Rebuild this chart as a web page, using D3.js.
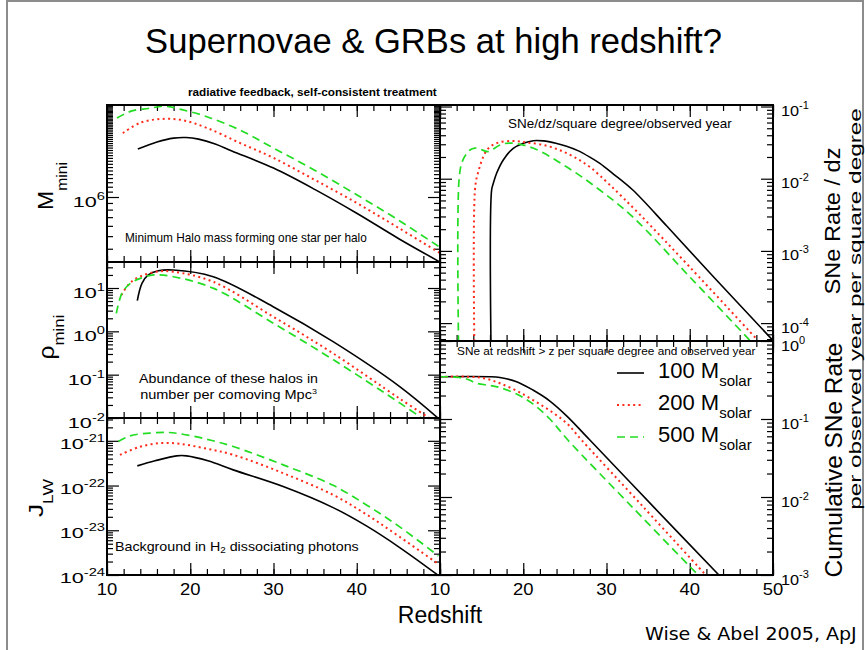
<!DOCTYPE html>
<html lang="en">
<head>
<meta charset="UTF-8" />
<title>Supernovae &amp; GRBs at high redshift?</title>
<script src="https://d3js.org/d3.v7.min.js"></script>
<style>
  body { margin: 0; background: #fff; }
  svg { display: block; font-family: "Liberation Sans", Arial, Helvetica, sans-serif; }
</style>
</head>
<body>
<div id="chart"></div>
<script>
// ------------------------------------------------------------
// Data: [redshift z, value]
// ------------------------------------------------------------

// minimum halo mass M_mini (solar masses)
const mMini100 = [[13.7, 2.34e6], [16, 2.65e6], [18, 2.84e6], [19.5, 2.87e6], [21, 2.79e6], [23, 2.56e6], [25, 2.26e6], [30, 1.67e6], [35, 1.14e6], [40, 7.5e5], [45, 4.8e5], [50, 3.16e5]];
const mMini200 = [[11.9, 3.1e6], [14, 3.73e6], [16.4, 3.98e6], [19, 3.91e6], [22, 3.4e6], [26, 2.6e6], [30, 2.0e6], [35, 1.35e6], [40, 9.0e5], [45, 5.8e5], [50, 3.7e5]];
const mMini500 = [[11.2, 4.05e6], [13, 4.6e6], [15, 4.8e6], [17, 5.0e6], [19, 4.7e6], [22, 4.15e6], [26, 3.27e6], [30, 2.38e6], [35, 1.6e6], [40, 1.04e6], [45, 6.65e5], [50, 4.1e5]];

// abundance rho_mini (per comoving Mpc^3)
const rho100 = [[13.64, 5.1], [14.2, 12.8], [14.96, 20], [16.16, 25], [17.96, 26], [22.76, 18.2], [29.96, 3.7], [37.16, 0.577], [45.16, 0.053], [49.8, 0.0098]];
const rho200 = [[11.72, 6.9], [12.72, 12.8], [13.92, 18.2], [15.92, 23.8], [17.92, 23.8], [22.72, 14], [29.96, 2.18], [37.16, 0.31], [45.16, 0.028], [48.76, 0.0098]];
const rho500 = [[11.12, 2.6], [11.8, 7.6], [12.8, 12.8], [14, 16.7], [15.6, 20], [18, 18.2], [22.8, 9.8], [30, 1.53], [37.2, 0.22], [45.2, 0.022], [47.8, 0.01]];

// Lyman-Werner background J_LW
const jLW100 = [[13.64, 2.75e-22], [15.76, 3.57e-22], [18.36, 4.61e-22], [19.56, 4.61e-22], [22.12, 3.57e-22], [25.16, 2.24e-22], [31.16, 9.5e-23], [37.16, 3.21e-23], [41.16, 1.25e-23], [45.16, 4.11e-24], [49.8, 9.8e-25]];
const jLW200 = [[11.56, 4.86e-22], [13.96, 7.34e-22], [16.36, 8.88e-22], [18.76, 8.57e-22], [21.76, 6.79e-22], [25.16, 4.86e-22], [31.16, 1.89e-22], [37.16, 6.18e-23], [41.16, 2.26e-23], [45.16, 7.1e-24], [49.8, 1.76e-24]];
const jLW500 = [[11.36, 9.64e-22], [12.76, 1.29e-21], [15.16, 1.49e-21], [17.16, 1.54e-21], [18.76, 1.44e-21], [21.76, 1.11e-21], [25.16, 7.45e-22], [31.16, 2.9e-22], [37.16, 1.01e-22], [41.16, 3.69e-23], [45.16, 1.19e-23], [49.8, 2.67e-24]];

// SNe rate per dz per square degree per observed year
const snRate100 = [[16.2, 1e-5], [16.2, 6.97e-3], [16.4, 8.6e-3], [16.8, 0.0119], [17.6, 0.0182], [18.8, 0.0264], [20, 0.0309], [21.2, 0.0336], [22.4, 0.0334], [23.92, 0.031], [25.2, 0.0282], [26.56, 0.0245], [28, 0.0199], [29.2, 0.0163], [30.76, 0.0118], [33.16, 6.97e-3], [37.24, 2.21e-3], [42.76, 4.49e-4], [49.96, 5.8e-5]];
const snRate200 = [[14.2, 1e-5], [14.2, 6.97e-3], [14.56, 0.012], [15.64, 0.025], [16.84, 0.0312], [18.76, 0.0333], [20.44, 0.0318], [22.6, 0.029], [24.4, 0.0248], [26.2, 0.0197], [28, 0.0145], [30.4, 8.2e-3], [34, 3.19e-3], [40, 5.98e-4], [48.16, 5.8e-5]];
const snRate500 = [[12.32, 1e-5], [12.32, 0.0107], [12.76, 0.0182], [13.6, 0.025], [14.2, 0.0266], [14.8, 0.0258], [15.76, 0.0237], [17.2, 0.0293], [18.4, 0.0312], [21.16, 0.0266], [25.24, 0.0145], [29.2, 6.97e-3], [33.16, 2.95e-3], [40, 4.36e-4], [47.2, 5.8e-5]];

// cumulative SNe rate (redshift > z)
const cum100 = [[10, 0.348], [16, 0.348], [17.2, 0.34], [19.2, 0.301], [21.16, 0.235], [23.2, 0.17], [25.24, 0.109], [28, 0.0538], [35.74, 7.3e-3], [43.5, 1e-3]];
const cum200 = [[10, 0.348], [13.6, 0.348], [15.4, 0.331], [17.2, 0.287], [19.24, 0.229], [21.16, 0.175], [23.2, 0.128], [25.24, 0.088], [27, 0.0538], [34.5, 7.3e-3], [41.92, 1e-3]];
const cum500 = [[10, 0.348], [11.8, 0.345], [13.2, 0.326], [14.4, 0.287], [16, 0.269], [17.2, 0.253], [19.2, 0.209], [21.16, 0.156], [23.2, 0.1], [25.36, 0.0538], [33.16, 7.3e-3], [41, 1e-3]];

const masses = ["100", "200", "500"];
const xMajor = [10, 20, 30, 40, 50];
const xMinor = d3.range(10, 50.01, 2);
const mMiniLabels = [1e6];
const rhoLabels = [10, 1, 0.1, 0.01];
const jLWLabels = [1e-21, 1e-22, 1e-23, 1e-24];
const snRateLabels = [0.1, 0.01, 1e-3, 1e-4];
const cumLabels = [1, 0.1, 0.01, 1e-3];

// ------------------------------------------------------------
const W = 865, H = 650;
const styles = [
  { color: "#000", dash: null, width: 1.6 },
  { color: "#ff2a1a", dash: "2,3.4", width: 2 },
  { color: "#22dd22", dash: "8,5", width: 1.7 },
];

const svg = d3.select("#chart").append("svg").attr("width", W).attr("height", H);
svg.append("rect").attr("width", W).attr("height", H).attr("fill", "#fff");
// slide frame
svg.append("rect")
  .attr("x", 7).attr("y", 1).attr("width", 856).attr("height", 700)
  .attr("fill", "none").attr("stroke", "#8c8c8c").attr("stroke-width", 2);

// text helper: pieces are [string, baseline shift, size]
function addText(x, y, pieces, o) {
  const g = svg.append("g").attr("transform", `translate(${x},${y}) rotate(${o.rotate || 0})`);
  const inner = g.append("g");
  const t = inner.append("text")
    .attr("text-anchor", o.anchor || "start")
    .attr("font-size", o.size)
    .attr("font-weight", o.weight || "normal")
    .attr("fill", "#000");
  if (o.family) t.attr("font-family", o.family);
  let cur = 0;
  pieces.forEach((p) => {
    const [str, shift, size] = typeof p === "string" ? [p, 0, o.size] : p;
    t.append("tspan").attr("dy", shift - cur).attr("font-size", size || o.size).text(str);
    cur = shift;
  });
  if (o.width) {
    const w = t.node().getComputedTextLength();
    inner.attr("transform", `scale(${o.width / w},1)`);
  } else if (o.stretch) {
    inner.attr("transform", `scale(${o.stretch},1)`);
  }
  return g;
}

function powText(x, y, v, o) {
  const e = Math.round(Math.log10(v));
  return addText(x, y, [["10", 0, o.size], [String(e), -o.sup, o.supSize]], o);
}

// ------------------------------------------------------------
// Panels
// ------------------------------------------------------------
const panels = [
  { key: "m", x0: 107, x1: 440, y0: 105, y1: 262, dom: [Math.pow(10, 5.5), Math.pow(10, 6.708)], data: [mMini100, mMini200, mMini500], labels: mMiniLabels, side: "left", lab: 10 },
  { key: "rho", x0: 107, x1: 440, y0: 262, y1: 418, dom: [0.01, Math.pow(10, 1.6)], data: [rho100, rho200, rho500], labels: rhoLabels, side: "left", lab: 10 },
  { key: "j", x0: 107, x1: 440, y0: 418, y1: 575, dom: [1e-24, Math.pow(10, -20.49)], data: [jLW100, jLW200, jLW500], labels: jLWLabels, side: "left", lab: 8, xLabels: [10, 20, 30, 40] },
  { key: "sn", x0: 440, x1: 773, y0: 105, y1: 341, dom: [Math.pow(10, -4.248), Math.pow(10, -0.979)], data: [snRate100, snRate200, snRate500], labels: snRateLabels, side: "right", lab: 9.5 },
  { key: "cum", x0: 440, x1: 773, y0: 341, y1: 575, dom: [1e-3, 1], data: [cum100, cum200, cum500], labels: cumLabels, side: "right", lab: 9.5, xLabels: xMajor },
];

panels.forEach((p) => {
  const x = d3.scaleLinear().domain([10, 50]).range([p.x0, p.x1]);
  const y = d3.scaleLog().domain(p.dom).range([p.y1, p.y0]);

  const clipId = "clip-" + p.key;
  svg.append("clipPath").attr("id", clipId)
    .append("rect").attr("x", p.x0).attr("y", p.y0)
    .attr("width", p.x1 - p.x0).attr("height", p.y1 - p.y0);

  // log minor / major ticks
  const all = y.ticks(50).filter((v) => v >= p.dom[0] * 0.999 && v <= p.dom[1] * 1.001);
  const major = all.filter((v) => Math.abs(Math.log10(v) - Math.round(Math.log10(v))) < 1e-6);
  const minor = all.filter((v) => !major.includes(v));

  const tickAxis = (gen, tx, ty, vals, len) => {
    const g = svg.append("g").attr("transform", `translate(${tx},${ty})`)
      .call(gen.tickValues(vals).tickSize(-len).tickFormat(""));
    g.select(".domain").remove();
    g.selectAll("line").attr("stroke", "#000").attr("stroke-width", 1.2);
  };
  tickAxis(d3.axisLeft(y), p.x0, 0, minor, 6);
  tickAxis(d3.axisLeft(y), p.x0, 0, major, 12);
  tickAxis(d3.axisRight(y), p.x1, 0, minor, 6);
  tickAxis(d3.axisRight(y), p.x1, 0, major, 12);
  tickAxis(d3.axisBottom(x), 0, p.y1, xMinor, 6);
  tickAxis(d3.axisBottom(x), 0, p.y1, xMajor, 12);
  tickAxis(d3.axisTop(x), 0, p.y0, xMinor, 6);
  tickAxis(d3.axisTop(x), 0, p.y0, xMajor, 12);

  // curves
  const line = d3.line()
    .x((d) => x(d[0]))
    .y((d) => y(d[1]))
    .curve(d3.curveCatmullRom.alpha(0.5));
  p.data.forEach((s, i) => {
    svg.append("path")
      .datum(s)
      .attr("clip-path", `url(#${clipId})`)
      .attr("d", line)
      .attr("fill", "none")
      .attr("stroke", styles[i].color)
      .attr("stroke-width", styles[i].width)
      .attr("stroke-dasharray", styles[i].dash);
  });

  // frame
  svg.append("rect")
    .attr("x", p.x0).attr("y", p.y0)
    .attr("width", p.x1 - p.x0).attr("height", p.y1 - p.y0)
    .attr("fill", "none").attr("stroke", "#000").attr("stroke-width", 2);

  // y tick labels
  p.labels.forEach((v) => {
    if (p.side === "left") {
      powText(p.x0 - 2, y(v) + p.lab, v, { size: 15.5, supSize: 10.5, sup: 7, anchor: "end", stretch: 1.4 });
    } else {
      powText(p.x1 + 8, y(v) + p.lab, v, { size: 15.5, supSize: 10.5, sup: 7, anchor: "start", stretch: 1.05 });
    }
  });

  // x tick labels
  (p.xLabels || []).forEach((v) => {
    addText(x(v), 595, [String(v)], { size: 16, anchor: "middle", stretch: 1.15 });
  });
});

// ------------------------------------------------------------
// Titles, annotations, axis titles
// ------------------------------------------------------------
addText(433.5, 53, ["Supernovae & GRBs at high redshift?"], { size: 36, anchor: "middle", width: 577 });
addText(188, 95.5, ["radiative feedback, self-consistent treatment"], { size: 11, weight: "bold", width: 249 });

addText(125, 241.5, ["Minimum Halo mass forming one star per halo"], { size: 12, width: 242 });
addText(228.5, 382.5, ["Abundance of these halos in"], { size: 13, anchor: "middle", width: 179 });
addText(228.5, 398.5, ["number per comoving Mpc", ["3", -5, 8]], { size: 13, anchor: "middle", width: 177 });
addText(115, 551, ["Background in H", ["2", 2, 9], [" dissociating photons", 0, 13]], { size: 13, width: 244 });
addText(508, 128, ["SNe/dz/square degree/observed year"], { size: 12.5, width: 224 });
addText(457, 355, ["SNe at redshift > z per square degree and observed year"], { size: 11, width: 299 });

// left axis titles
addText(53, 186, ["M", ["mini", 14, 15]], { size: 22, anchor: "middle", rotate: -90, width: 48 });
addText(54, 337, ["\u03c1", ["mini", 10, 15]], { size: 22, anchor: "middle", rotate: -90, width: 45 });
addText(43, 498, ["J", ["LW", 10, 14]], { size: 21, anchor: "middle", rotate: -90, width: 38 });

// right axis titles
addText(840, 221, ["SNe Rate / dz"], { size: 23, anchor: "middle", rotate: -90, width: 147 });
addText(842, 460, ["Cumulative SNe Rate"], { size: 23, anchor: "middle", rotate: -90, width: 235 });
addText(861, 309, ["per observed year per square degree"], { size: 17, anchor: "middle", rotate: -90, width: 402 });

addText(440, 623, ["Redshift"], { size: 23, anchor: "middle" });

// legend
const legY = [373, 405, 437];
masses.forEach((m, i) => {
  svg.append("line")
    .attr("x1", 617).attr("x2", 644).attr("y1", legY[i]).attr("y2", legY[i])
    .attr("stroke", styles[i].color)
    .attr("stroke-width", styles[i].width)
    .attr("stroke-dasharray", styles[i].dash);
  addText(658, legY[i] + 4.5, [m + " M", ["solar", 8, 15]], { size: 22 });
});

addText(645, 640, ["Wise & Abel 2005, ApJ"], { size: 18, family: "DejaVu Sans", width: 212 });
</script>
</body>
</html>
